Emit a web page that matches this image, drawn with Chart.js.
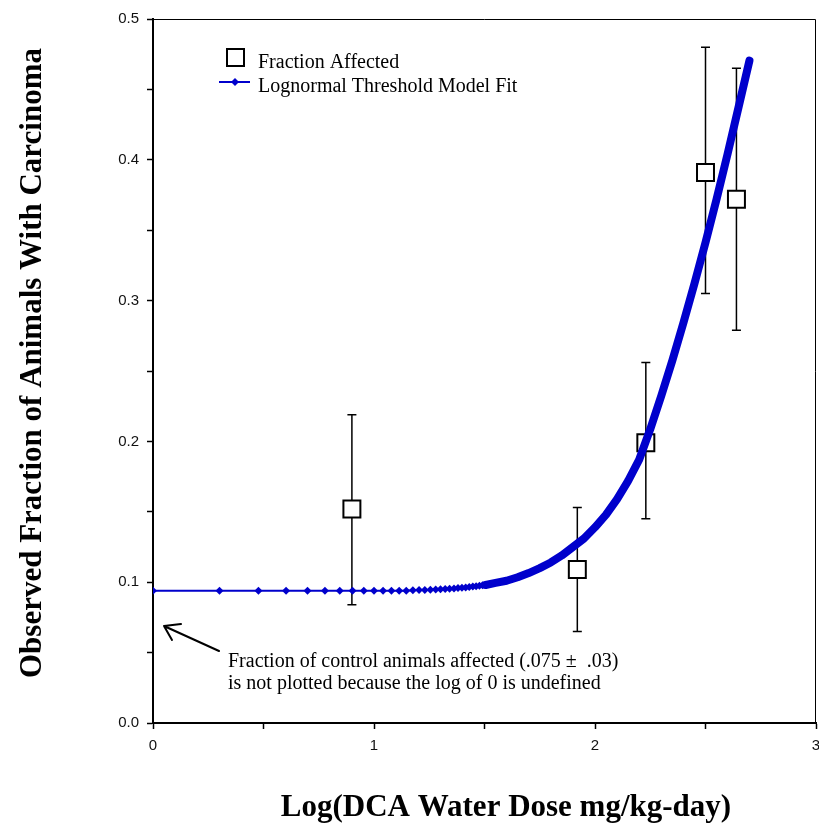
<!DOCTYPE html>
<html>
<head>
<meta charset="utf-8">
<script src="https://cdn.jsdelivr.net/npm/chart.js@4.4.1/dist/chart.umd.min.js"></script>
<style>
  html, body { margin: 0; padding: 0; background: #fff; }
  canvas { display: block; }
</style>
</head>
<body>
<canvas id="chart" width="819" height="823"></canvas>
<script>
// observed fraction affected, x = log10(dose mg/kg-day)
const obsX = [0.90, 1.92, 2.23, 2.50, 2.64];
const obsY = [0.152, 0.109, 0.199, 0.391, 0.372];
const obsLow = [0.084, 0.065, 0.145, 0.305, 0.279];
const obsHigh = [0.219, 0.153, 0.256, 0.480, 0.465];

// lognormal threshold model fit
const fitX = [0, 0.301, 0.477, 0.602, 0.699, 0.778, 0.845, 0.903, 0.954, 1.000,
  1.041, 1.079, 1.114, 1.146, 1.176, 1.204, 1.230, 1.255, 1.279, 1.301,
  1.322, 1.342, 1.362, 1.380, 1.398, 1.415, 1.431, 1.447, 1.462, 1.477,
  1.491, 1.505, 1.55, 1.60, 1.65, 1.70, 1.75, 1.80, 1.85, 1.90,
  1.95, 2.00, 2.05, 2.10, 2.15, 2.20, 2.25, 2.30, 2.35, 2.40,
  2.45, 2.50, 2.55, 2.60, 2.65, 2.699];
const fitY = [0.094, 0.094, 0.094, 0.094, 0.094, 0.094, 0.094, 0.094, 0.094, 0.094,
  0.094, 0.094, 0.094, 0.094, 0.0942, 0.0944, 0.0945, 0.0946, 0.0948, 0.095,
  0.0952, 0.0954, 0.0956, 0.0958, 0.096, 0.0963, 0.0966, 0.0969, 0.0972, 0.0975,
  0.0978, 0.098, 0.0995, 0.101, 0.1035, 0.1065, 0.110, 0.114, 0.119, 0.125,
  0.131, 0.139, 0.148, 0.159, 0.172, 0.187, 0.2087, 0.2324, 0.2575, 0.2841,
  0.312, 0.3413, 0.372, 0.4042, 0.4377, 0.4705];

const xTicks = [0, 1, 2, 3];
const yTicks = [0.0, 0.1, 0.2, 0.3, 0.4, 0.5];

const blue = "#0000cc";
const serif = "'Liberation Serif', 'Times New Roman', serif";
const sans = "'Liberation Sans', Arial, sans-serif";

const errorBars = {
  id: "errorBars",
  beforeDatasetsDraw(chart) {
    const { ctx, scales: { x, y } } = chart;
    ctx.save();
    ctx.strokeStyle = "#000";
    ctx.lineWidth = 1.5;
    obsX.forEach((v, i) => {
      const px = x.getPixelForValue(v);
      const top = y.getPixelForValue(obsHigh[i]);
      const bot = y.getPixelForValue(obsLow[i]);
      ctx.beginPath();
      ctx.moveTo(px, top);
      ctx.lineTo(px, bot);
      ctx.moveTo(px - 4.5, top);
      ctx.lineTo(px + 4.5, top);
      ctx.moveTo(px - 4.5, bot);
      ctx.lineTo(px + 4.5, bot);
      ctx.stroke();
    });
    ctx.restore();
  },
};

const decorations = {
  id: "decorations",
  afterDraw(chart) {
    const { ctx, chartArea: a } = chart;
    ctx.save();

    // frame top / right
    ctx.strokeStyle = "#000";
    ctx.lineWidth = 1;
    ctx.beginPath();
    ctx.moveTo(a.left, a.top + 0.5);
    ctx.lineTo(a.right - 0.5, a.top + 0.5);
    ctx.lineTo(a.right - 0.5, a.bottom);
    ctx.stroke();

    // legend
    ctx.fillStyle = "#fff";
    ctx.lineWidth = 2;
    ctx.strokeStyle = "#000";
    ctx.fillRect(227, 49, 17, 17);
    ctx.strokeRect(227, 49, 17, 17);
    ctx.strokeStyle = blue;
    ctx.beginPath();
    ctx.moveTo(219, 82);
    ctx.lineTo(250, 82);
    ctx.stroke();
    ctx.fillStyle = blue;
    ctx.beginPath();
    ctx.moveTo(235, 78);
    ctx.lineTo(239, 82);
    ctx.lineTo(235, 86);
    ctx.lineTo(231, 82);
    ctx.closePath();
    ctx.fill();

    ctx.fillStyle = "#000";
    ctx.font = "20px " + serif;
    ctx.textAlign = "left";
    ctx.textBaseline = "alphabetic";
    ctx.fillText("Fraction Affected", 258, 68);
    ctx.fillText("Lognormal Threshold Model Fit", 258, 92);

    // note on the control group
    ctx.fillText("Fraction of control animals affected (.075 \u00b1  .03)", 228, 667);
    ctx.fillText("is not plotted because the log of 0 is undefined", 228, 689);
    ctx.strokeStyle = "#000";
    ctx.lineWidth = 2;
    ctx.lineCap = "round";
    ctx.beginPath();
    ctx.moveTo(219, 651);
    ctx.lineTo(164, 626);
    ctx.moveTo(164, 626);
    ctx.lineTo(181, 624);
    ctx.moveTo(164, 626);
    ctx.lineTo(172, 640);
    ctx.stroke();

    // axis titles
    ctx.font = "bold 31px " + serif;
    ctx.textAlign = "center";
    ctx.fillText("Log(DCA Water Dose mg/kg-day)", 506, 816);
    ctx.save();
    ctx.translate(41, 363);
    ctx.rotate(-Math.PI / 2);
    ctx.fillText("Observed Fraction of Animals With Carcinoma", 0, 0);
    ctx.restore();

    ctx.restore();
  },
};

const isMajor = (v, step) => Math.abs(v / step - Math.round(v / step)) < 1e-6;

new Chart(document.getElementById("chart"), {
  type: "scatter",
  data: {
    datasets: [
      {
        label: "Lognormal Threshold Model Fit",
        data: fitX.map((v, i) => ({ x: v, y: fitY[i] })),
        showLine: true,
        borderColor: blue,
        backgroundColor: blue,
        borderWidth: 2,
        borderCapStyle: "round",
        borderJoinStyle: "round",
        pointStyle: "rectRot",
        pointRadius: (c) => (fitX[c.dataIndex] <= 1.51 ? 4 : 0),
        pointBorderWidth: 0,
        segment: {
          borderWidth: (c) => (c.p0.parsed.x >= 1.5 ? 8 : 2),
        },
        order: 0,
      },
      {
        label: "Fraction Affected",
        data: obsX.map((v, i) => ({ x: v, y: obsY[i] })),
        pointStyle: "rect",
        pointRadius: 12,
        pointBackgroundColor: "#fff",
        pointBorderColor: "#000",
        pointBorderWidth: 2,
        order: 1,
      },
    ],
  },
  options: {
    responsive: false,
    animation: false,
    devicePixelRatio: 1,
    layout: { autoPadding: false, padding: { left: 0, right: 3, top: 19, bottom: 0 } },
    plugins: {
      legend: { display: false },
      tooltip: { enabled: false },
    },
    scales: {
      x: {
        type: "linear",
        min: xTicks[0],
        max: xTicks[xTicks.length - 1],
        afterFit: (s) => { s.height = 100; s.paddingLeft = 0; s.paddingRight = 0; },
        ticks: {
          stepSize: 0.5,
          autoSkip: false,
          maxRotation: 0,
          padding: 8,
          color: "#111",
          font: { family: sans, size: 15 },
          callback: (v) => (isMajor(v, 1) ? String(Math.round(v)) : ""),
        },
        grid: { drawOnChartArea: false, tickLength: 6, tickWidth: 1.5, tickColor: "#000" },
        border: { color: "#000", width: 2 },
      },
      y: {
        type: "linear",
        min: yTicks[0],
        max: yTicks[yTicks.length - 1],
        afterFit: (s) => { s.width = 153; s.paddingTop = 0; s.paddingBottom = 0; },
        ticks: {
          stepSize: 0.05,
          autoSkip: false,
          padding: 8,
          color: "#111",
          font: { family: sans, size: 15 },
          callback: (v) => (isMajor(v, 0.1) ? v.toFixed(1) : ""),
        },
        grid: { drawOnChartArea: false, tickLength: 6, tickWidth: 1.5, tickColor: "#000" },
        border: { color: "#000", width: 2 },
      },
    },
  },
  plugins: [errorBars, decorations],
});
</script>
</body>
</html>
